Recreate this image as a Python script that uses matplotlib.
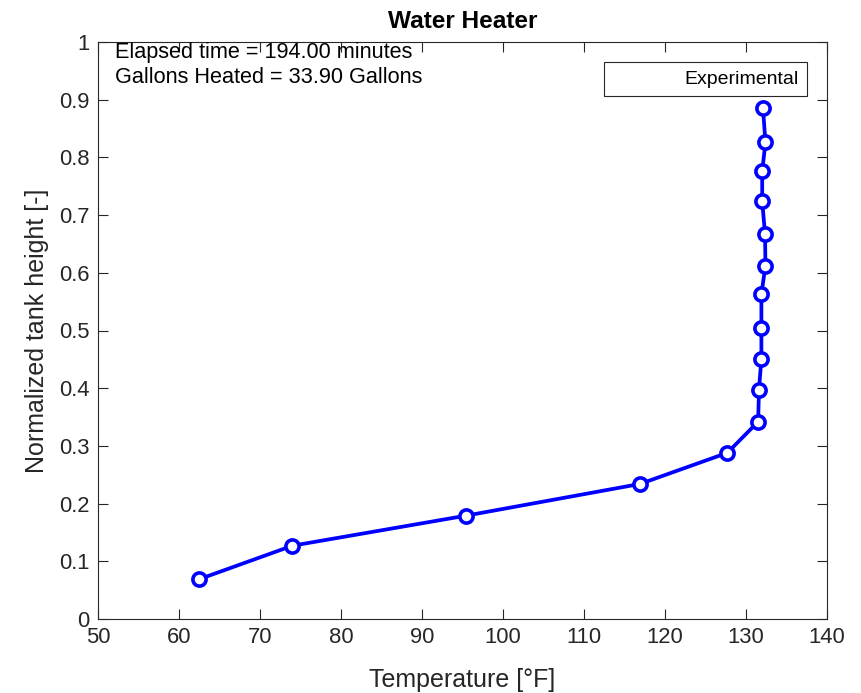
import matplotlib
matplotlib.use("Agg")
import matplotlib.pyplot as plt
from matplotlib.lines import Line2D

# data
temp_F = [62.5, 74.0, 95.4, 116.9, 127.7, 131.5, 131.6, 131.9, 131.9, 131.9,
          132.4, 132.35, 132.0, 132.0, 132.4, 132.1]
height = [0.069, 0.127, 0.179, 0.234, 0.288, 0.342, 0.397, 0.451, 0.504, 0.563,
          0.612, 0.667, 0.724, 0.776, 0.826, 0.885]
xticks = [50, 60, 70, 80, 90, 100, 110, 120, 130, 140]
yticks = [0, 0.1, 0.2, 0.3, 0.4, 0.5, 0.6, 0.7, 0.8, 0.9, 1]
ytick_labels = ["0", "0.1", "0.2", "0.3", "0.4", "0.5", "0.6", "0.7", "0.8", "0.9", "1"]
info = "Elapsed time = 194.00 minutes\nGallons Heated = 33.90 Gallons"

plt.rcParams['font.family'] = ['Liberation Sans', 'DejaVu Sans']
dark = '#262626'

fig = plt.figure(figsize=(8.62, 6.93), dpi=100)
ax = fig.add_axes([98/862, 1-619/693, 729/862, 577/693])

ax.plot(temp_F, height, color=(0, 0, 1), lw=2.7, marker='o', ms=9.5,
        mfc='white', mec=(0, 0, 1), mew=2.6)

ax.set_xlim(50, 140)
ax.set_ylim(0, 1)
ax.set_xticks(xticks)
ax.set_yticks(yticks)
ax.set_yticklabels(ytick_labels)
ax.tick_params(direction='in', length=7, width=0.8, colors=dark, labelsize=15.8,
               top=True, right=True, pad=6)
for s in ax.spines.values():
    s.set_color(dark)
    s.set_linewidth(0.8)

ax.set_xlabel("Temperature [°F]", fontsize=18, color=dark, labelpad=14)
ax.set_ylabel("Normalized tank height [-]", fontsize=18, color=dark, labelpad=7)
ax.set_title("Water Heater", fontsize=17.6, fontweight='bold', color='black', pad=10)

ax.text(0.0233, 1.0, info, transform=ax.transAxes, va='top', ha='left',
        fontsize=15.6, color='black', linespacing=1.22)

h = Line2D([], [], linestyle='none')
leg = ax.legend([h], ["Experimental"], loc='upper right',
                bbox_to_anchor=(0.9726, 0.9653), borderaxespad=0, fontsize=14,
                frameon=True, fancybox=False, edgecolor=dark, framealpha=1,
                borderpad=0.42, handlelength=2.9, handletextpad=0.8)
leg.get_frame().set_linewidth(0.8)

fig.savefig("out.png", dpi=100)
